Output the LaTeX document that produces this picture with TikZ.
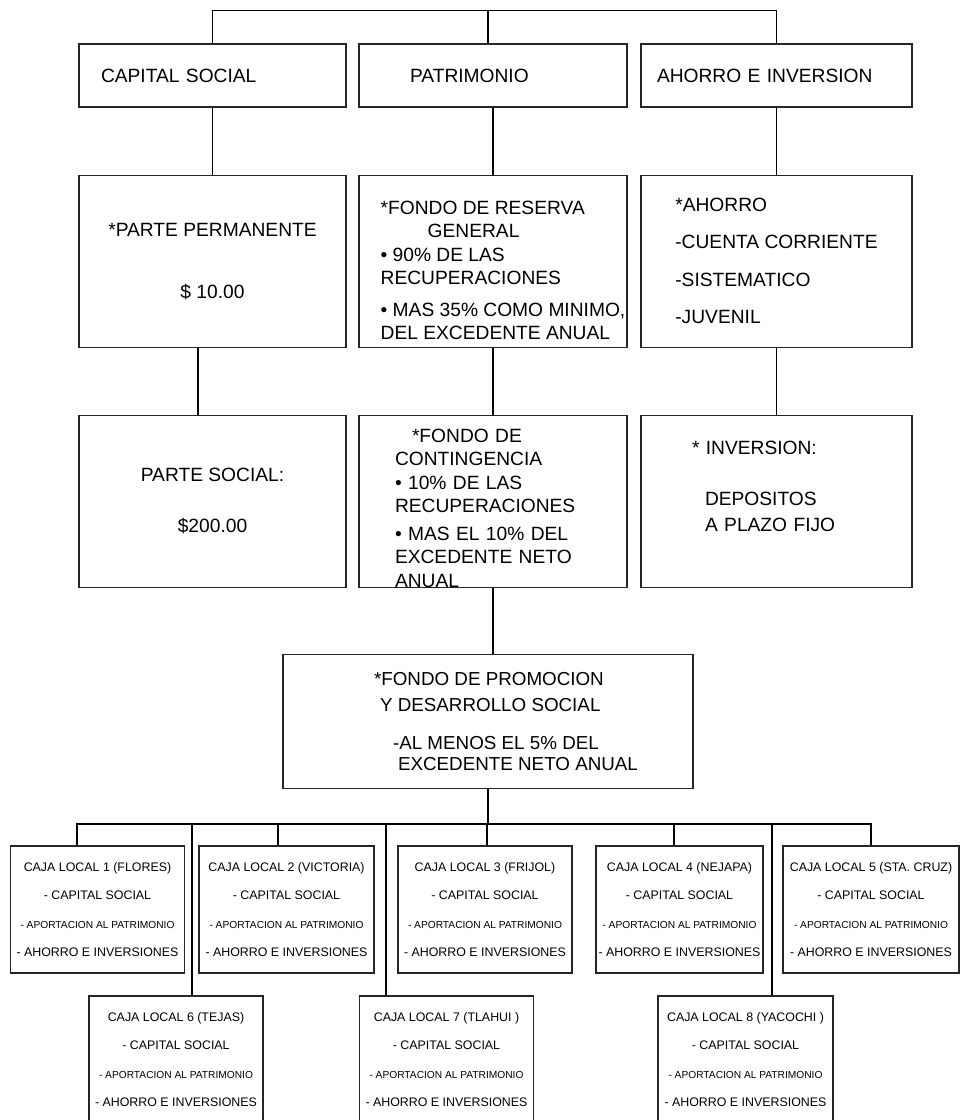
\documentclass[tikz,border=0pt]{standalone}
\usepackage{fontspec}
\setmainfont{Liberation Sans}
\usetikzlibrary{positioning,calc}

\begin{document}
\begin{tikzpicture}[x=1pt,y=1pt,
    blk/.style={draw=black!85,line width=.55pt,align=left,inner ysep=0pt,
      minimum height=86pt,font=\fontsize{9.6}{11.75}\selectfont},
    head/.style={blk,minimum height=31.5pt},
    caja/.style={draw=black!85,line width=.55pt,align=center,inner sep=1pt,
      minimum width=87pt,minimum height=63.5pt,
      font=\fontsize{6.2}{14.2}\selectfont},
    ln/.style={line width=.55pt}]
  \useasboundingbox (0,0) rectangle (480,-560);
  % cabeceras
  \node[head,inner xsep=11pt,text width=111.5pt] (capital) at (106.25,-37.75) {CAPITAL SOCIAL};
  \node[head,inner xsep=25.5pt,text width=83pt] (patrim) at (246.5,-37.75) {PATRIMONIO};
  \node[head,inner xsep=8pt,text width=119.5pt] (ahorro) at (388.25,-37.75) {AHORRO E INVERSION};
  % segunda fila
  \node[blk,below=33.5pt of capital,minimum width=133.5pt,align=center] (perm)
    {*PARTE PERMANENTE\\[19.25pt]\$ 10.00};
  \node[blk,below=33.5pt of patrim,minimum width=134pt,inner xsep=0pt] (reserva)
    {\rule{0pt}{16pt}\hspace*{10pt}*FONDO DE RESERVA\\
     \hspace*{33.5pt}GENERAL\\
     \hspace*{10pt}\textbullet{} 90\% DE LAS\\
     \hspace*{10pt}RECUPERACIONES\\[4pt]
     \hspace*{10pt}\textbullet{} MAS 35\% COMO MINIMO,\\
     \hspace*{10pt}DEL EXCEDENTE ANUAL};
  \node[blk,below=33.5pt of ahorro,minimum width=135.5pt] (cuentas)
    {*AHORRO\\[7pt]-CUENTA CORRIENTE\\[7pt]-SISTEMATICO\\[7pt]-JUVENIL};
  % tercera fila
  \node[blk,below=33.5pt of perm,minimum width=133.5pt,align=center] (social)
    {PARTE SOCIAL:\\[13.75pt]\$200.00};
  \node[blk,below=33.5pt of reserva,inner xsep=18pt,text width=98pt] (conting)
    {\rule{0pt}{13.5pt}\hspace*{8.5pt}*FONDO DE\\
     CONTINGENCIA\\
     \textbullet{} 10\% DE LAS\\
     RECUPERACIONES\\[2pt]
     \textbullet{} MAS EL 10\% DEL\\
     EXCEDENTE NETO\\
     ANUAL};
  \node[blk,below=33.5pt of cuentas,inner xsep=25.5pt,text width=84.5pt] (inver)
    {* INVERSION:\\[13.75pt]
     \hspace*{6.5pt}DEPOSITOS\\[1.25pt]
     \hspace*{6.5pt}A PLAZO FIJO\rule[-14.5pt]{0pt}{0pt}};
  \node[blk,below=33pt of conting,xshift=-2.5pt,minimum width=205pt,minimum height=67pt,
    font=\fontsize{9.4}{11.75}\selectfont] (promo)
    {\hspace*{18pt}*FONDO DE PROMOCION\\[1.25pt]
     \hspace*{21pt}Y DESARROLLO SOCIAL\\[7.25pt]
     \hspace*{27.5pt}-AL MENOS EL 5\% DEL\\[-1.25pt]
     \hspace*{30pt}EXCEDENTE NETO ANUAL};
  % cajas locales
  \node[caja] (caja1) at (48.75,-454.75) {CAJA LOCAL 1 (FLORES)\\- CAPITAL SOCIAL\\{\fontsize{5.1}{14.2}\selectfont - APORTACION AL PATRIMONIO}\\- AHORRO E INVERSIONES};
  \node[caja,minimum width=87.5pt] (caja2) at (143.25,-454.75) {CAJA LOCAL 2 (VICTORIA)\\- CAPITAL SOCIAL\\{\fontsize{5.1}{14.2}\selectfont - APORTACION AL PATRIMONIO}\\- AHORRO E INVERSIONES};
  \node[caja] (caja3) at (242.5,-454.75) {CAJA LOCAL 3 (FRIJOL)\\- CAPITAL SOCIAL\\{\fontsize{5.1}{14.2}\selectfont - APORTACION AL PATRIMONIO}\\- AHORRO E INVERSIONES};
  \node[caja,minimum width=83.5pt] (caja4) at (339.75,-454.75) {CAJA LOCAL 4 (NEJAPA)\\- CAPITAL SOCIAL\\{\fontsize{5.1}{14.2}\selectfont - APORTACION AL PATRIMONIO}\\- AHORRO E INVERSIONES};
  \node[caja,minimum width=88pt] (caja5) at (435.5,-454.75) {CAJA LOCAL 5 (STA. CRUZ)\\- CAPITAL SOCIAL\\{\fontsize{5.1}{14.2}\selectfont - APORTACION AL PATRIMONIO}\\- AHORRO E INVERSIONES};
  \node[caja] (caja6) at (88,-529.75) {CAJA LOCAL 6 (TEJAS)\\- CAPITAL SOCIAL\\{\fontsize{5.1}{14.2}\selectfont - APORTACION AL PATRIMONIO}\\- AHORRO E INVERSIONES};
  \node[caja] (caja7) at (223.25,-529.75) {CAJA LOCAL 7 (TLAHUI )\\- CAPITAL SOCIAL\\{\fontsize{5.1}{14.2}\selectfont - APORTACION AL PATRIMONIO}\\- AHORRO E INVERSIONES};
  \node[caja,minimum width=87.5pt] (caja8) at (372.75,-529.75) {CAJA LOCAL 8 (YACOCHI )\\- CAPITAL SOCIAL\\{\fontsize{5.1}{14.2}\selectfont - APORTACION AL PATRIMONIO}\\- AHORRO E INVERSIONES};
  % lineas
  \draw[ln] (capital.north) -- ++(0,16.5) -| (ahorro.north);
  \draw[ln] ([xshift=-2.5pt]patrim.north) -- ++(0,16.5);
  \draw[ln] (capital) -- (perm);
  \draw[ln] (patrim) -- (reserva);
  \draw[ln] (ahorro) -- (cuentas);
  \draw[ln] ([xshift=-7.25pt]perm.south) -- ([xshift=-7.25pt]social.north);
  \draw[ln] (reserva) -- (conting);
  \draw[ln] (cuentas) -- (inver);
  \draw[ln] (conting.south) -- (conting.south |- promo.north);
  \draw[ln] (promo.south) -- ++(0,-17.5) coordinate (hub);
  \draw[ln] ([xshift=-10.25pt]caja1.north) |- (hub) -| (caja5.north);
  \draw[ln] ([xshift=-4.25pt]caja2.north) |- (hub);
  \draw[ln] ([xshift=1pt]caja3.north) |- (hub);
  \draw[ln] ([xshift=-2.75pt]caja4.north) |- (hub);
  \draw[ln] ([xshift=8pt]caja6.north) |- (hub);
  \draw[ln] ([xshift=-30.25pt]caja7.north) |- (hub);
  \draw[ln] ([xshift=13.25pt]caja8.north) |- (hub);
\end{tikzpicture}
\end{document}
